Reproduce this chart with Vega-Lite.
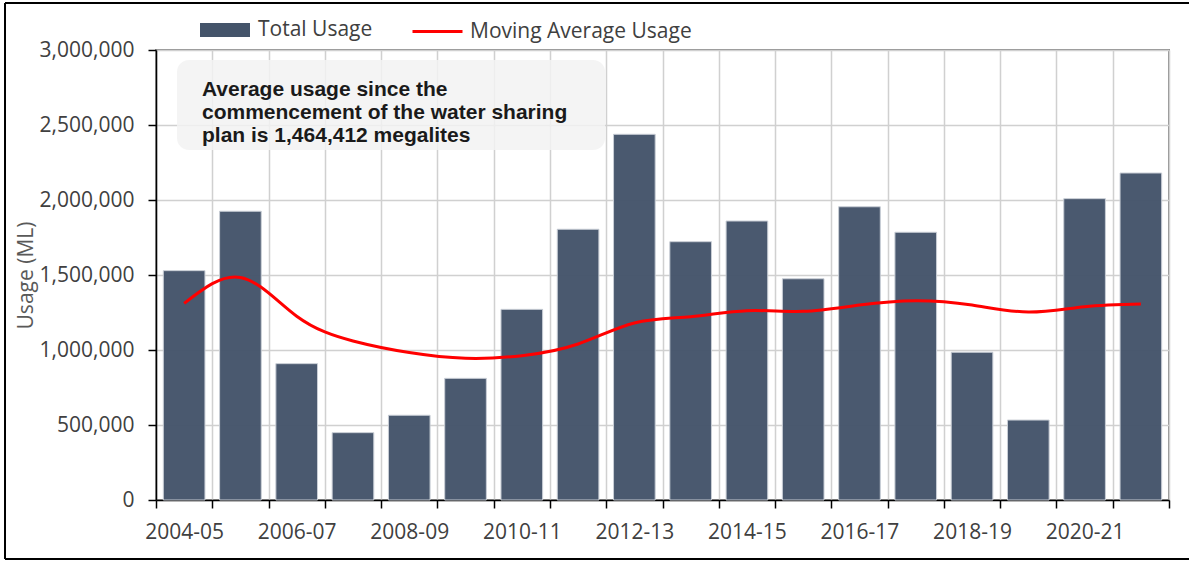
{
  "$schema": "https://vega.github.io/schema/vega-lite/v6.json",
  "width": 1013,
  "height": 450,
  "autosize": {"type": "none"},
  "padding": {"left": 156, "top": 50, "right": 20, "bottom": 61},
  "background": "white",
  "config": {
    "font": "Open Sans",
    "view": {"stroke": "#8c8c8c", "strokeWidth": 2},
    "axis": {
      "labelFont": "Open Sans",
      "labelFontSize": 21,
      "labelColor": "#404040",
      "gridColor": "#d0d0d0",
      "gridWidth": 1.5,
      "domainColor": "#000000",
      "domainWidth": 1.5,
      "tickColor": "#000000",
      "tickWidth": 1.5,
      "tickSize": 8
    },
    "axisY": {
      "labelExpr": "format(datum.value, ',')",
      "labelPadding": 14
    }
  },
  "datasets": {
    "usage": [
      {"year": "2004-05", "total": 1529000, "avg": 1311000},
      {"year": "2005-06", "total": 1925000, "avg": 1484000},
      {"year": "2006-07", "total": 909000, "avg": 1225000},
      {"year": "2007-08", "total": 449000, "avg": 1060000},
      {"year": "2008-09", "total": 565000, "avg": 983000},
      {"year": "2009-10", "total": 811000, "avg": 945000},
      {"year": "2010-11", "total": 1271000, "avg": 962000},
      {"year": "2011-12", "total": 1805000, "avg": 1040000},
      {"year": "2012-13", "total": 2438000, "avg": 1180000},
      {"year": "2013-14", "total": 1722000, "avg": 1222000},
      {"year": "2014-15", "total": 1860000, "avg": 1262000},
      {"year": "2015-16", "total": 1475000, "avg": 1258000},
      {"year": "2016-17", "total": 1955000, "avg": 1300000},
      {"year": "2017-18", "total": 1785000, "avg": 1329000},
      {"year": "2018-19", "total": 985000, "avg": 1300000},
      {"year": "2019-20", "total": 533000, "avg": 1253000},
      {"year": "2020-21", "total": 2009000, "avg": 1289000},
      {"year": "2021-22", "total": 2180000, "avg": 1307000}
    ],
    "note": [
      {"lines": ["Average usage since the", "commencement of the water sharing", "plan is 1,464,412 megalites"]}
    ]
  },
  "layer": [
    {
      "data": {"name": "usage"},
      "mark": {"type": "bar", "width": {"band": 0.74}, "color": "#44546a", "stroke": "#c9ced6", "strokeWidth": 1, "fillOpacity": 0.97},
      "encoding": {
        "x": {
          "field": "year",
          "type": "ordinal",
          "sort": null,
          "scale": {"type": "band", "paddingInner": 0, "paddingOuter": 0},
          "axis": {
            "title": null,
            "labelAngle": 0,
            "tickBand": "extent",
            "grid": true,
            "labelPadding": 13,
            "labelExpr": "toNumber(substring(datum.value, 0, 4)) % 2 == 0 ? datum.value : ''"
          }
        },
        "y": {
          "field": "total",
          "type": "quantitative",
          "scale": {"domain": [0, 3000000], "nice": false},
          "axis": {
            "title": "Usage (ML)",
            "values": [0, 500000, 1000000, 1500000, 2000000, 2500000, 3000000],
            "titleFont": "Open Sans",
            "titleFontSize": 21,
            "titleFontWeight": "normal",
            "titleColor": "#595959",
            "titleX": -130,
            "titleY": 225,
            "titleAlign": "center",
            "titleBaseline": "middle"
          }
        },
        "fill": {
          "datum": "Total Usage",
          "scale": {"range": ["#44546a"]},
          "legend": {
            "title": null,
            "orient": "none",
            "legendX": 44,
            "legendY": -45,
            "padding": 0,
            "symbolType": "M-1,-0.28H1V0.28H-1Z",
            "symbolSize": 2500,
            "symbolStrokeWidth": 0,
            "labelFont": "Open Sans",
            "labelFontSize": 21,
            "labelColor": "#404040",
            "labelOffset": 8,
            "labelLimit": 400
          }
        }
      }
    },
    {
      "data": {"name": "note"},
      "mark": {"type": "rect", "fill": "#f2f2f2", "opacity": 0.85, "cornerRadius": 12},
      "encoding": {
        "x": {"datum": "2004-05", "bandPosition": 0.373},
        "x2": {"datum": "2011-12", "bandPosition": 0.98},
        "y": {"datum": 2933000, "type": "quantitative", "scale": {"domain": [0, 3000000], "nice": false}},
        "y2": {"datum": 2333000}
      }
    },
    {
      "data": {"name": "note"},
      "mark": {"type": "text", "align": "left", "baseline": "alphabetic", "font": "Liberation Sans", "fontWeight": "bold", "fontSize": 21, "lineHeight": 23, "color": "#1a1a1a"},
      "encoding": {
        "x": {"datum": "2004-05", "bandPosition": 0.817},
        "y": {"datum": 2695000, "type": "quantitative", "scale": {"domain": [0, 3000000], "nice": false}},
        "text": {"field": "lines"}
      }
    },
    {
      "data": {"name": "note"},
      "mark": {"type": "rule", "stroke": "#000000", "strokeWidth": 2},
      "encoding": {
        "x": {"datum": "2004-05", "bandPosition": -2.683},
        "y": {"datum": 3313000, "type": "quantitative", "scale": {"domain": [0, 3000000], "nice": false}},
        "y2": {"datum": -393000}
      }
    },
    {
      "data": {"name": "note"},
      "mark": {"type": "rule", "stroke": "#000000", "strokeWidth": 2},
      "encoding": {
        "x": {"datum": "2004-05", "bandPosition": -2.683},
        "x2": {"datum": "2021-22", "bandPosition": 4},
        "y": {"datum": 3313000, "type": "quantitative", "scale": {"domain": [0, 3000000], "nice": false}}
      }
    },
    {
      "data": {"name": "note"},
      "mark": {"type": "rule", "stroke": "#000000", "strokeWidth": 2},
      "encoding": {
        "x": {"datum": "2004-05", "bandPosition": -2.683},
        "x2": {"datum": "2021-22", "bandPosition": 4},
        "y": {"datum": -393000, "type": "quantitative", "scale": {"domain": [0, 3000000], "nice": false}}
      }
    },
    {
      "data": {"name": "usage"},
      "mark": {"type": "line", "interpolate": "natural", "strokeWidth": 3},
      "encoding": {
        "x": {"field": "year", "type": "ordinal", "sort": null},
        "y": {"field": "avg", "type": "quantitative", "scale": {"domain": [0, 3000000], "nice": false}},
        "stroke": {
          "datum": "Moving Average Usage",
          "scale": {"range": ["#ff0000"]},
          "legend": {
            "title": null,
            "orient": "none",
            "legendX": 255,
            "legendY": -45,
            "padding": 0,
            "symbolType": "stroke",
            "symbolSize": 2500,
            "symbolStrokeWidth": 3,
            "labelFont": "Open Sans",
            "labelFontSize": 21,
            "labelColor": "#404040",
            "labelOffset": 6,
            "labelLimit": 400
          }
        }
      }
    }
  ]
}
